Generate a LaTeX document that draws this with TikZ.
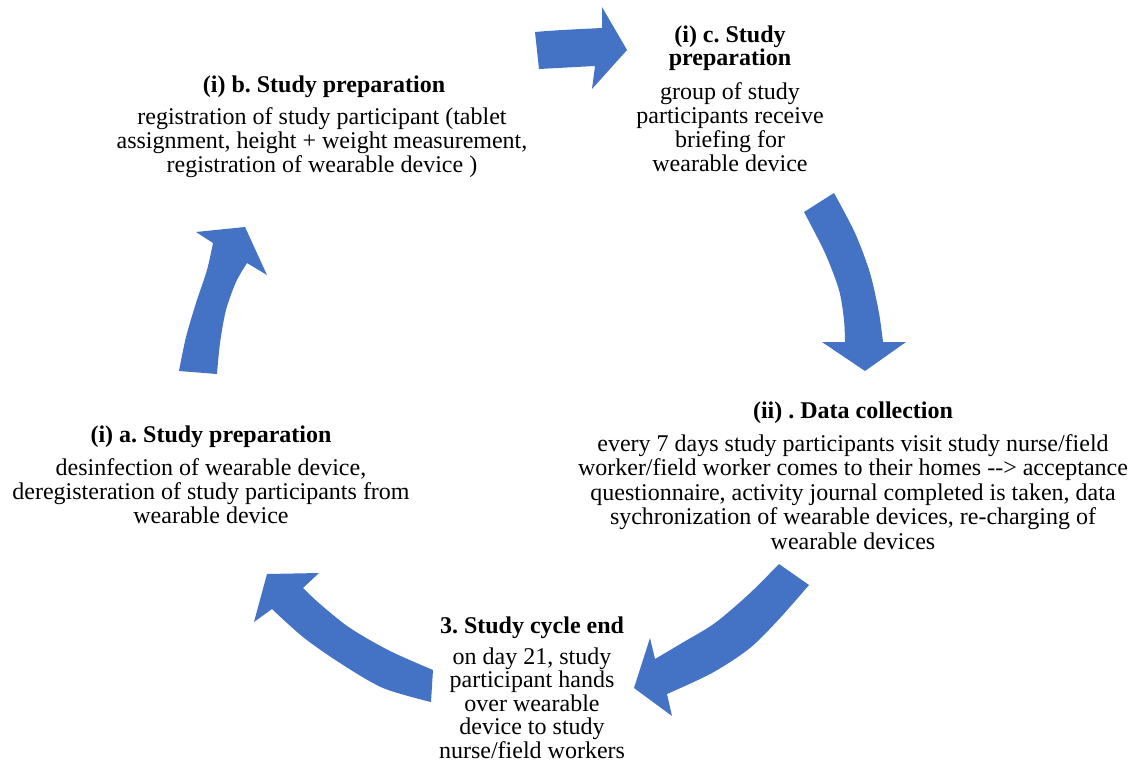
\documentclass[tikz,border=0pt]{standalone}
\usepackage{fontspec}
\setmainfont{Liberation Serif}
\definecolor{cycleblue}{RGB}{68,114,196}
\tikzset{
  stagehead/.style={font=\fontsize{24}{23.5}\selectfont\bfseries\frenchspacing, align=center, inner sep=0pt, anchor=north},
  stagebody/.style={font=\fontsize{24}{24}\selectfont\frenchspacing, align=center, inner sep=0pt, anchor=north},
  cyclearrow/.style={fill=cycleblue}
}
\begin{document}
\begin{tikzpicture}[x=1pt,y=-1pt]
\useasboundingbox (0,0) rectangle (1142,763);

% stage texts
\node[stagehead] (hb) at (324,75.5) {(i) b. Study preparation};
\node[stagebody] (tb) at (322,107) {registration of study participant (tablet\\assignment, height + weight measurement,\\registration of wearable device )};

\node[stagehead] (hc) at (730,25.5) {(i) c. Study\\preparation};
\node[stagebody] (tc) at (730,82.5) {group of study\\participants receive\\briefing for\\wearable device};

\node[stagehead] (hii) at (853,401.5) {(ii) . Data collection};
\node[stagebody, font=\fontsize{24}{24.6}\selectfont\frenchspacing] (tii) at (853,434) {every 7 days study participants visit study nurse/field\\worker/field worker comes to their homes -{}-{}> acceptance\\questionnaire, activity journal completed is taken, data\\sychronization of wearable devices, re-charging of\\wearable devices};

\node[stagehead] (ha) at (211,425.5) {(i) a. Study preparation};
\node[stagebody] (ta) at (211,458.5) {desinfection of wearable device,\\deregisteration of study participants from\\wearable device};

\node[stagehead] (he) at (532,616.5) {3. Study cycle end};
\node[stagebody, font=\fontsize{24}{23.5}\selectfont\frenchspacing] (te) at (532,647.5) {on day 21, study\\participant hands\\over wearable\\device to study\\nurse/field workers};

% block arrows of the cycle
\fill[cyclearrow] (535,32) .. controls (557,30) and (582,29) .. (602,28) -- (602,7) -- (627,50) -- (592,89) -- (595,66) .. controls (577,67) and (557,68) .. (539,69) -- cycle;

\fill[cyclearrow] (834,193) -- (804,212) -- plot[smooth] coordinates {(804,212) (825,253) (839,290) (844,320) (845,342)} -- (822,342) -- (865,371) -- (906,342) -- (883,342) -- plot[smooth] coordinates {(883,342) (879,313) (870,273) (855,233) (834,193)} -- cycle;

\fill[cyclearrow] (809,585) -- (779,564) -- plot[smooth] coordinates {(779,564) (749,594) (715,623) (682,643) (655,659)} -- (650,638) -- (634,688) -- (672,716) -- (667,694) -- plot[smooth] coordinates {(667,694) (712,673) (750,648) (780,618) (809,585)} -- cycle;

\fill[cyclearrow] (431,702) -- (433,670) -- plot[smooth] coordinates {(433,670) (390,651) (350,628) (320,604) (303,588)} -- (319,573) -- (267,574) -- (254,622) -- (272,609) -- plot[smooth] coordinates {(272,609) (303,637) (340,663) (383,688) (431,702)} -- cycle;

\fill[cyclearrow] (217,374) -- (179,371) -- plot[smooth] coordinates {(179,371) (186,337) (196,303) (207,270) (213,243)} -- (196,232) -- (245,227) -- (267,275) -- (247,263) -- plot[smooth] coordinates {(247,263) (236,282) (226,310) (220,343) (217,374)} -- cycle;
\end{tikzpicture}
\end{document}
